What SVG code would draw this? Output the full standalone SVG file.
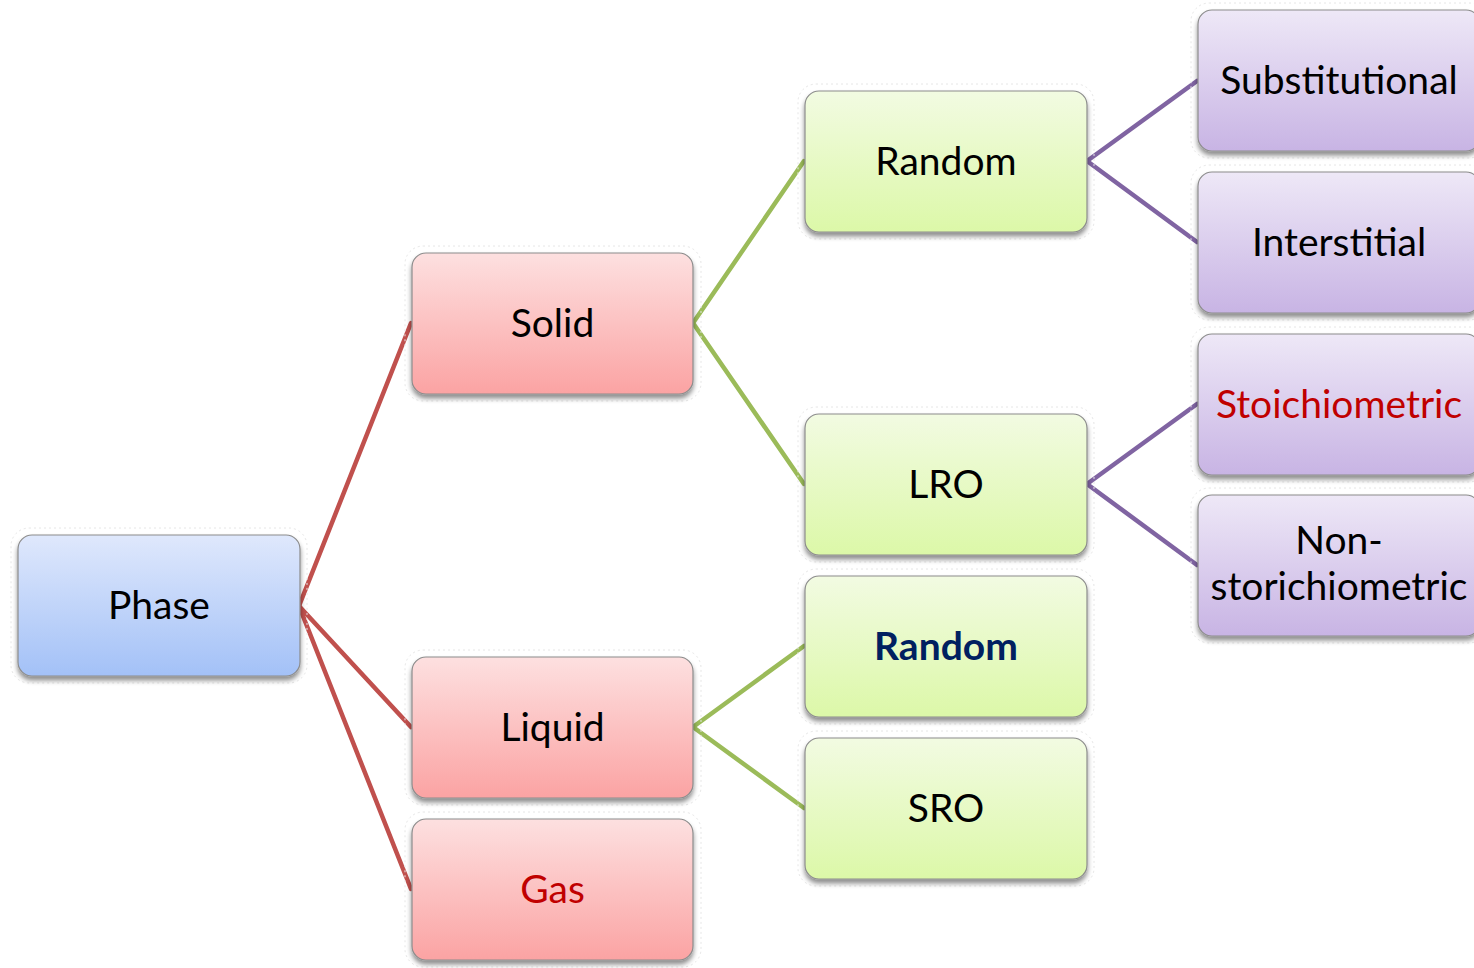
<svg xmlns="http://www.w3.org/2000/svg" width="1474" height="968" viewBox="0 0 1474 968">
  <defs>
    <linearGradient id="gBlue" x1="0" y1="0" x2="0" y2="1">
      <stop offset="0" stop-color="#dfe8fc"/>
      <stop offset="1" stop-color="#a3c1f7"/>
    </linearGradient>
    <linearGradient id="gRed" x1="0" y1="0" x2="0" y2="1">
      <stop offset="0" stop-color="#fde0e0"/>
      <stop offset="1" stop-color="#fba3a3"/>
    </linearGradient>
    <linearGradient id="gGreen" x1="0" y1="0" x2="0" y2="1">
      <stop offset="0" stop-color="#f2fbe2"/>
      <stop offset="1" stop-color="#dcf8a8"/>
    </linearGradient>
    <linearGradient id="gPurple" x1="0" y1="0" x2="0" y2="1">
      <stop offset="0" stop-color="#eee8f7"/>
      <stop offset="1" stop-color="#c8b4e4"/>
    </linearGradient>
    <filter id="shadow" x="-10%" y="-10%" width="120%" height="130%">
      <feGaussianBlur in="SourceAlpha" stdDeviation="2.5"/>
      <feOffset dx="0" dy="4" result="b"/>
      <feComponentTransfer><feFuncA type="linear" slope="0.45"/></feComponentTransfer>
      <feMerge><feMergeNode/><feMergeNode in="SourceGraphic"/></feMerge>
    </filter>
  </defs>
  <style>
    .halo { fill: none; stroke: #e6e6e6; stroke-width: 1; stroke-dasharray: 2 3; }
    .box { stroke: #8c8c8c; stroke-width: 1.2; filter: url(#shadow); }
    .blue { fill: url(#gBlue); }
    .red { fill: url(#gRed); }
    .green { fill: url(#gGreen); }
    .purple { fill: url(#gPurple); }
    .lbl { font-family: Lato, "Open Sans", sans-serif; font-size: 39px; fill: #000; text-anchor: middle; }
    .alert { fill: #c00000; }
    .strong { fill: #002060; font-weight: bold; }
    .c-red { stroke: #c0504d; }
    .c-green { stroke: #9bbb59; }
    .c-purple { stroke: #8064a2; }
    #connectors line { stroke-width: 4.5; stroke-linecap: round; }
  </style>
  <rect width="1474" height="968" fill="#ffffff"/>

  <g id="connectors">
    <line class="c-red" x1="299" y1="606" x2="411" y2="323"/>
    <line class="c-red" x1="299" y1="606" x2="411" y2="727"/>
    <line class="c-red" x1="299" y1="606" x2="411" y2="889"/>
    <line class="c-green" x1="693" y1="323" x2="804" y2="161"/>
    <line class="c-green" x1="693" y1="323" x2="804" y2="484"/>
    <line class="c-green" x1="693" y1="727" x2="804" y2="646"/>
    <line class="c-green" x1="693" y1="727" x2="804" y2="808"/>
    <line class="c-purple" x1="1087" y1="161" x2="1197" y2="81"/>
    <line class="c-purple" x1="1087" y1="161" x2="1197" y2="242"/>
    <line class="c-purple" x1="1087" y1="484" x2="1197" y2="404"/>
    <line class="c-purple" x1="1087" y1="484" x2="1197" y2="565"/>
  </g>

  <g id="phase">
    <rect class="halo" x="11" y="528" width="296" height="155" rx="18"/>
    <rect class="box blue" x="18" y="535" width="282" height="141" rx="14"/>
    <text class="lbl" x="159" y="619">Phase</text>
  </g>

  <g id="solid">
    <rect class="halo" x="405" y="246" width="296" height="155" rx="18"/>
    <rect class="box red" x="412" y="253" width="281" height="141" rx="14"/>
    <text class="lbl" x="552.5" y="337">Solid</text>
  </g>
  <g id="liquid">
    <rect class="halo" x="405" y="650" width="296" height="155" rx="18"/>
    <rect class="box red" x="412" y="657" width="281" height="141" rx="14"/>
    <text class="lbl" x="552.5" y="741">Liquid</text>
  </g>
  <g id="gas">
    <rect class="halo" x="405" y="812" width="296" height="155" rx="18"/>
    <rect class="box red" x="412" y="819" width="281" height="141" rx="14"/>
    <text class="lbl alert" x="552.5" y="903">Gas</text>
  </g>

  <g id="solid-random">
    <rect class="halo" x="798" y="84" width="296" height="155" rx="18"/>
    <rect class="box green" x="805" y="91" width="282" height="141" rx="14"/>
    <text class="lbl" x="946" y="175">Random</text>
  </g>
  <g id="lro">
    <rect class="halo" x="798" y="407" width="296" height="155" rx="18"/>
    <rect class="box green" x="805" y="414" width="282" height="141" rx="14"/>
    <text class="lbl" x="946" y="498">LRO</text>
  </g>
  <g id="liquid-random">
    <rect class="halo" x="798" y="569" width="296" height="155" rx="18"/>
    <rect class="box green" x="805" y="576" width="282" height="141" rx="14"/>
    <text class="lbl strong" x="946" y="660">Random</text>
  </g>
  <g id="sro">
    <rect class="halo" x="798" y="731" width="296" height="155" rx="18"/>
    <rect class="box green" x="805" y="738" width="282" height="141" rx="14"/>
    <text class="lbl" x="946" y="822">SRO</text>
  </g>

  <g id="substitutional">
    <rect class="halo" x="1191" y="3" width="296" height="155" rx="18"/>
    <rect class="box purple" x="1198" y="10" width="282" height="141" rx="14"/>
    <text class="lbl" x="1339" y="94">Substitutional</text>
  </g>
  <g id="interstitial">
    <rect class="halo" x="1191" y="165" width="296" height="155" rx="18"/>
    <rect class="box purple" x="1198" y="172" width="282" height="141" rx="14"/>
    <text class="lbl" x="1339" y="256">Interstitial</text>
  </g>
  <g id="stoichiometric">
    <rect class="halo" x="1191" y="327" width="296" height="155" rx="18"/>
    <rect class="box purple" x="1198" y="334" width="282" height="141" rx="14"/>
    <text class="lbl alert" x="1339" y="418">Stoichiometric</text>
  </g>
  <g id="non-stoichiometric">
    <rect class="halo" x="1191" y="488" width="296" height="155" rx="18"/>
    <rect class="box purple" x="1198" y="495" width="282" height="141" rx="14"/>
    <text class="lbl" x="1339" y="554">Non-</text>
    <text class="lbl" x="1339" y="600">storichiometric</text>
  </g>
</svg>
